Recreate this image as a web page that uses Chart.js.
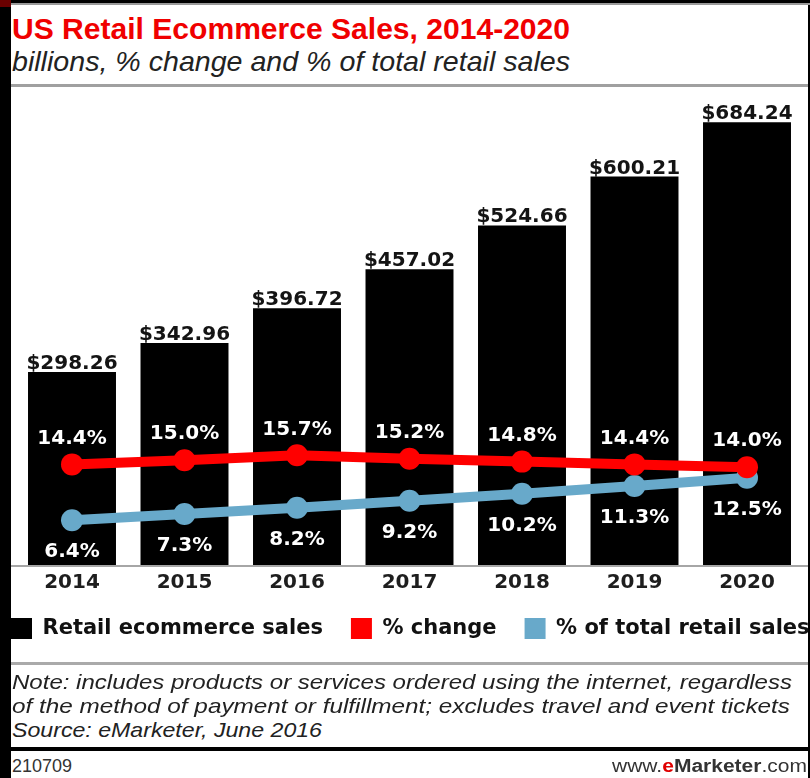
<!DOCTYPE html>
<html><head><meta charset="utf-8">
<script src="https://cdn.jsdelivr.net/npm/chart.js@4.4.1/dist/chart.umd.min.js"></script>
<style>
html,body{margin:0;padding:0;background:#fff;}
#page{position:relative;width:810px;height:778px;overflow:hidden;background:#fff;}
.rule{position:absolute;z-index:5;}
.txt{position:absolute;z-index:6;white-space:nowrap;font-family:"Liberation Sans",Arial,sans-serif;transform-origin:0 0;}
#chart{position:absolute;z-index:1;left:-17px;top:88px;width:867px;height:575px;}
</style></head><body>
<div id="page">
  <canvas id="chart" width="867" height="575"></canvas>
  <div class="rule" style="left:0;top:0;width:11px;height:778px;background:#000"></div>
  <div class="rule" style="left:0;top:0;width:11px;height:7px;background:#6a0000"></div>
  <div class="rule" style="left:808px;top:0;width:2px;height:778px;background:#000"></div>
  <div class="rule" style="left:11px;top:0;width:799px;height:3px;background:#000"></div>
  <div class="rule" style="left:11px;top:3px;width:799px;height:2px;background:#9a9a9a"></div>
  <div class="rule" style="left:11px;top:84px;width:797px;height:3px;background:#a0a0a0"></div>
  <div class="rule" style="left:11px;top:662px;width:797px;height:3px;background:#aaa"></div>
  <div class="rule" style="left:11px;top:747px;width:797px;height:4px;background:#000"></div>

  <div class="txt" data-w="558" style="left:12px;top:14px;font-size:30px;line-height:30px;font-weight:bold;color:#f00000">US Retail Ecommerce Sales, 2014-2020</div>
  <div class="txt" data-w="558" style="left:12px;top:48px;font-size:28px;line-height:28px;font-style:italic;color:#222">billions, % change and % of total retail sales</div>

  <div class="txt" data-w="780" style="left:12px;top:671px;font-size:21px;line-height:21px;font-style:italic;color:#222">Note: includes products or services ordered using the internet, regardless</div>
  <div class="txt" data-w="778" style="left:12px;top:695px;font-size:21px;line-height:21px;font-style:italic;color:#222">of the method of payment or fulfillment; excludes travel and event tickets</div>
  <div class="txt" data-w="310" style="left:12px;top:719px;font-size:21px;line-height:21px;font-style:italic;color:#222">Source: eMarketer, June 2016</div>

  <div class="txt" data-w="60" style="left:12px;top:757px;font-size:18px;line-height:18px;color:#333">210709</div>
  <div class="txt" data-w="195" style="left:612px;top:757px;font-size:18px;line-height:18px;color:#333">www.<b style="color:#e00000">e</b><b>Marketer</b>.com</div>
</div>
<script>
// ---- data ----
const categories = ['2014', '2015', '2016', '2017', '2018', '2019', '2020'];
const salesBillions = [298.26, 342.96, 396.72, 457.02, 524.66, 600.21, 684.24];
const pctChange = [14.4, 15.0, 15.7, 15.2, 14.8, 14.4, 14.0];
const pctOfTotal = [6.4, 7.3, 8.2, 9.2, 10.2, 11.3, 12.5];
const seriesNames = ['Retail ecommerce sales', '% change', '% of total retail sales'];
const seriesColors = ['#000000', '#ff0000', '#68a9ca'];

// fit header/footer texts to their measured widths
document.querySelectorAll('.txt[data-w]').forEach(el => {
  const w = el.getBoundingClientRect().width;
  el.style.transform = 'scaleX(' + (parseFloat(el.dataset.w) / w) + ')';
});

const valueLabels = {
  id: 'valueLabels',
  afterDatasetsDraw(chart) {
    const ctx = chart.ctx;
    ctx.save();
    ctx.font = 'bold 20px "DejaVu Sans"';
    ctx.textAlign = 'center';
    ctx.textBaseline = 'alphabetic';
    ctx.fillStyle = '#141414';
    chart.getDatasetMeta(0).data.forEach((el, i) => {
      ctx.fillText('$' + salesBillions[i].toFixed(2), el.x, el.y - 3);
    });
    ctx.fillStyle = '#ffffff';
    ctx.textBaseline = 'middle';
    chart.getDatasetMeta(1).data.forEach((el, i) => {
      ctx.fillText(pctChange[i].toFixed(1) + '%', el.x, el.y - 26);
    });
    chart.getDatasetMeta(2).data.forEach((el, i) => {
      ctx.fillText(pctOfTotal[i].toFixed(1) + '%', el.x, el.y + 32);
    });
    ctx.restore();
  }
};
const baseline = {
  id: 'baseline',
  beforeDatasetsDraw(chart) {
    const ctx = chart.ctx;
    const y = chart.scales.y.getPixelForValue(0);
    ctx.save();
    ctx.fillStyle = '#a6a6a6';
    ctx.fillRect(28, y, 797, 2);
    ctx.restore();
  }
};

const hidden = { grid: { display: false, drawTicks: false }, border: { display: false }, ticks: { display: false } };

new Chart(document.getElementById('chart'), {
  data: {
    labels: categories,
    datasets: [
      { type: 'bar', label: seriesNames[0], data: salesBillions, yAxisID: 'y', order: 2,
        backgroundColor: seriesColors[0], borderWidth: 0, barPercentage: 0.782, categoryPercentage: 1.0 },
      { type: 'line', label: seriesNames[1], data: pctChange, yAxisID: 'y2', order: 0,
        borderColor: seriesColors[1], backgroundColor: seriesColors[1], borderWidth: 10, tension: 0,
        pointRadius: 11, pointBackgroundColor: seriesColors[1], pointBorderWidth: 0 },
      { type: 'line', label: seriesNames[2], data: pctOfTotal, yAxisID: 'y2', order: 1,
        borderColor: seriesColors[2], backgroundColor: seriesColors[2], borderWidth: 10, tension: 0,
        pointRadius: 11, pointBackgroundColor: seriesColors[2], pointBorderWidth: 0 }
    ]
  },
  options: {
    responsive: false,
    animation: false,
    events: [],
    layout: { padding: { top: 7, bottom: 14, left: 0, right: 0 } },
    scales: {
      x: {
        type: 'category',
        grid: { display: false, drawTicks: false },
        border: { display: false },
        ticks: { font: { family: 'DejaVu Sans', size: 20, weight: 'bold' }, color: '#1e1e1e', padding: 6, maxRotation: 0, autoSkip: false },
        afterFit(a) { a.height = 25; }
      },
      y: Object.assign({ position: 'left', min: 0, max: 720, afterFit(a) { a.width = 32.75; } }, hidden),
      y2: Object.assign({ position: 'right', min: 0, max: 66.7, afterFit(a) { a.width = 46.75; } }, hidden)
    },
    plugins: {
      tooltip: { enabled: false },
      legend: {
        position: 'bottom',
        align: 'start',
        labels: {
          font: { family: 'DejaVu Sans', size: 21, weight: 'bold' },
          color: '#111',
          boxWidth: 21,
          boxHeight: 21,
          padding: 28,
          generateLabels(chart) {
            return chart.data.datasets.map((ds, i) => ({
              text: ds.label, fillStyle: ds.backgroundColor, strokeStyle: ds.backgroundColor,
              lineWidth: 0, hidden: false, datasetIndex: i, fontColor: '#111'
            }));
          }
        }
      }
    }
  },
  plugins: [baseline, valueLabels]
});
</script>
</body></html>
